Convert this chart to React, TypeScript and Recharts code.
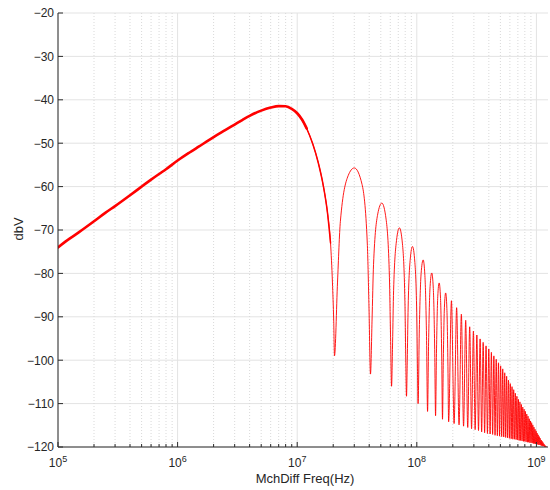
import React from 'react';
import { LineChart, Line, XAxis, YAxis, CartesianGrid, Label } from 'recharts';

// Main lobe (Hz, dBV)
const mainLobeFreq = [1e5, 1.25e5, 1.5e5, 2e5, 2.5e5, 3e5, 4e5, 5e5, 6e5, 7e5, 8e5, 1e6, 1.25e6, 1.5e6, 2e6, 2.5e6, 3e6, 3.5e6, 4e6, 5e6, 6e6, 7e6, 8e6, 9e6, 1e7, 1.1e7, 1.2e7, 1.35e7, 1.5e7, 1.65e7, 1.8e7, 1.9e7, 1.97e7, 2.02e7];
const mainLobeDb = [-74, -72, -70.5, -68, -66, -64.5, -62, -60, -58.4, -57.1, -56, -54, -52.2, -50.8, -48.6, -47.0, -45.7, -44.6, -43.7, -42.5, -41.8, -41.45, -41.5, -42.1, -43.1, -44.6, -46.6, -50.2, -54.5, -59.7, -66.5, -73, -82, -91];

// First side lobes, detailed shape
const sideLobeFreq = [
  2.173e7, 2.296e7, 2.665e7, 3.0e7, 3.485e7, 3.854e7, 3.977e7,
  4.223e7, 4.346e7, 4.715e7, 5.1e7, 5.535e7, 5.904e7, 6.027e7,
  6.273e7, 6.396e7, 6.765e7, 7.15e7, 7.585e7, 7.954e7, 8.077e7,
  8.323e7, 8.446e7, 8.815e7, 9.2e7, 9.635e7, 1.0004e8, 1.0127e8,
  1.0496e8, 1.0865e8, 1.13e8, 1.1685e8, 1.2054e8,
  1.2546e8, 1.2915e8, 1.333e8, 1.374e8, 1.411e8,
  1.4596e8, 1.4965e8, 1.538e8, 1.579e8, 1.616e8,
  1.6646e8, 1.7015e8, 1.743e8, 1.784e8, 1.821e8,
];
const sideLobeDb = [
  -82, -68, -57.5, -55.7, -59.5, -73, -87,
  -91, -78, -66.3, -63.8, -67.5, -81, -94,
  -96, -84, -72.4, -69.5, -73.2, -86.5, -99,
  -100, -89, -76.7, -73.8, -77.5, -90.5, -102,
  -93, -80, -76.9, -80.5, -94.5,
  -96, -83, -79.9, -83.5, -97.5,
  -98.5, -85.4, -82.2, -85.8, -99.5,
  -100.5, -87.8, -84.5, -88.1, -101.5,
];

// Later side-lobe peaks
const peakFreq = [
  1.948e8, 2.153e8, 2.358e8, 2.563e8, 2.768e8, 2.973e8, 3.178e8, 3.383e8, 3.588e8, 3.793e8,
  3.998e8, 4.203e8, 4.408e8, 4.613e8, 4.818e8, 5.023e8, 5.228e8, 5.433e8, 5.638e8, 5.843e8,
  6.048e8, 6.253e8, 6.458e8, 6.663e8, 6.868e8, 7.073e8, 7.278e8, 7.483e8, 7.688e8, 7.893e8,
  8.098e8, 8.303e8, 8.508e8, 8.713e8, 8.918e8, 9.123e8, 9.328e8, 9.533e8, 9.738e8, 9.943e8,
  1.0148e9, 1.0353e9, 1.0558e9, 1.0763e9, 1.0968e9, 1.1173e9, 1.1378e9, 1.1583e9, 1.1788e9, 1.1993e9,
];
const peakDb = [
  -86.3, -87.9, -89.4, -90.8, -92.3, -93.3, -94.2, -95.1, -95.9, -96.7,
  -97.4, -98.2, -99.0, -99.8, -100.6, -101.3, -102.0, -102.9, -103.7, -104.6,
  -105.4, -106.1, -106.8, -107.6, -108.3, -109.0, -109.6, -110.2, -110.8, -111.3,
  -111.8, -112.4, -112.9, -113.5, -114.0, -114.4, -114.9, -115.4, -115.9, -116.3,
  -116.8, -117.2, -117.6, -118.0, -118.4, -118.7, -119.0, -119.3, -119.6, -119.8,
];

// Nulls
const nullFreq = [
  2.05e7, 4.1e7, 6.15e7, 8.2e7, 1.025e8, 1.23e8, 1.435e8, 1.64e8, 1.845e8, 2.05e8,
  2.255e8, 2.46e8, 2.665e8, 2.87e8, 3.075e8, 3.28e8, 3.485e8, 3.69e8, 3.895e8, 4.1e8,
  4.305e8, 4.51e8, 4.715e8, 4.92e8, 5.125e8, 5.33e8, 5.535e8, 5.74e8, 5.945e8, 6.15e8,
  6.355e8, 6.56e8, 6.765e8, 6.97e8, 7.175e8, 7.38e8, 7.585e8, 7.79e8, 7.995e8, 8.2e8,
  8.405e8, 8.61e8, 8.815e8, 9.02e8, 9.225e8, 9.43e8, 9.635e8, 9.84e8, 1.0045e9, 1.025e9,
  1.0455e9, 1.066e9, 1.0865e9, 1.107e9, 1.1275e9, 1.148e9, 1.1685e9, 1.189e9, 1.2095e9,
];
const nullDb = [
  -99, -103.2, -106, -108.3, -110, -111.8, -112.8, -113.6, -114.2, -114.6,
  -114.9, -115.2, -115.5, -115.8, -116.0, -116.2, -116.5, -116.7, -116.9, -117.0,
  -117.1, -117.3, -117.4, -117.5, -117.6, -117.7, -117.8, -117.9, -118.0, -118.1,
  -118.2, -118.2, -118.3, -118.4, -118.5, -118.5, -118.6, -118.7, -118.7, -118.8,
  -118.9, -118.9, -119.0, -119.0, -119.1, -119.2, -119.2, -119.3, -119.3, -119.4,
  -119.5, -119.5, -119.6, -119.7, -119.8, -119.8, -119.9, -120, -120,
];

// Axis ticks
const xMajorTicks = [1e5, 1e6, 1e7, 1e8, 1e9];
const xMajorExp = ['5', '6', '7', '8', '9'];
const xMinorTicks = [
  2e5, 3e5, 4e5, 5e5, 6e5, 7e5, 8e5, 9e5,
  2e6, 3e6, 4e6, 5e6, 6e6, 7e6, 8e6, 9e6,
  2e7, 3e7, 4e7, 5e7, 6e7, 7e7, 8e7, 9e7,
  2e8, 3e8, 4e8, 5e8, 6e8, 7e8, 8e8, 9e8,
];
const yTicks = [-120, -110, -100, -90, -80, -70, -60, -50, -40, -30, -20];
const xDomain = [1e5, 1.25e9];
const yDomain = [-120, -20];
const xTitle = 'MchDiff Freq(Hz)';
const yTitle = 'dbV';

const zip = (fs: number[], vs: number[]) => fs.map((f, i) => ({ f, v: vs[i] }));
const curve = [
  ...zip(mainLobeFreq, mainLobeDb),
  ...zip(sideLobeFreq, sideLobeDb),
  ...zip(peakFreq, peakDb),
  ...zip(nullFreq, nullDb),
].sort((a, b) => a.f - b.f);
const mainLobe = zip(mainLobeFreq, mainLobeDb);
const mainLobeThick = mainLobe.filter((d) => d.f <= 1.2e7);
const mainLobeMedium = mainLobe.filter((d) => d.f >= 1e7 && d.f <= 1.9e7);

const allXTicks = [...xMajorTicks, ...xMinorTicks].sort((a, b) => a - b);

const FONT = '"Liberation Sans", Arial, Helvetica, sans-serif';
const AXIS = '#2b2b2b';
const TXT = '#262626';
const RED = '#ff0000';

const BottomTick = (props: any) => {
  const { x, y, payload } = props;
  const idx = xMajorTicks.indexOf(payload.value);
  const major = idx >= 0;
  return (
    <g>
      <line x1={x} x2={x} y1={y} y2={y - (major ? 5 : 3)} stroke={AXIS} strokeWidth={1} />
      {major && (
        <text x={x} y={y + 20} textAnchor="middle" fontSize={12} fill={TXT} fontFamily={FONT}>
          10
          <tspan dy={-5} fontSize={9}>{xMajorExp[idx]}</tspan>
        </text>
      )}
    </g>
  );
};

const TopTick = (props: any) => {
  const { x, y, payload } = props;
  const major = xMajorTicks.indexOf(payload.value) >= 0;
  return <line x1={x} x2={x} y1={y} y2={y + (major ? 5 : 3)} stroke={AXIS} strokeWidth={1} />;
};

const LeftTick = (props: any) => {
  const { x, y, payload } = props;
  const v = payload.value as number;
  const s = v < 0 ? '\u2212' + Math.abs(v) : String(v);
  return (
    <g>
      <line x1={x} x2={x + 5} y1={y} y2={y} stroke={AXIS} strokeWidth={1} />
      <text x={x - 4} y={y + 4.3} textAnchor="end" fontSize={12} fill={TXT} fontFamily={FONT}>
        {s}
      </text>
    </g>
  );
};

const RightTick = (props: any) => {
  const { x, y } = props;
  return <line x1={x} x2={x - 5} y1={y} y2={y} stroke={AXIS} strokeWidth={1} />;
};

const XTitle = (props: any) => {
  const vb = props.viewBox || { x: 58, y: 447, width: 490, height: 43 };
  return (
    <text x={vb.x + vb.width / 2 + 2} y={vb.y + 36} textAnchor="middle" fontSize={13} fill={TXT} fontFamily={FONT}>
      {xTitle}
    </text>
  );
};

const YTitle = (props: any) => {
  const vb = props.viewBox || { x: 0, y: 13, width: 58, height: 434 };
  const cx = vb.x + 23;
  const cy = vb.y + vb.height / 2 - 1;
  return (
    <text x={cx} y={cy} transform={`rotate(-90, ${cx}, ${cy})`} textAnchor="middle" fontSize={13} fill={TXT} fontFamily={FONT}>
      {yTitle}
    </text>
  );
};

export default function App() {
  return (
    <div style={{ position: 'absolute', left: 0, top: 0, width: 550, height: 490, background: '#fff' }}>
      <LineChart width={550} height={490} data={curve} margin={{ top: 13, right: 2, bottom: 0, left: 0 }}>
        <CartesianGrid
          stroke="#e3e3e3"
          strokeWidth={1}
          horizontalValues={yTicks}
          verticalValues={xMajorTicks}
        />
        <CartesianGrid
          stroke="#d9d9d9"
          strokeWidth={1}
          strokeDasharray="1 2"
          horizontal={false}
          verticalValues={xMinorTicks}
        />
        <XAxis
          dataKey="f"
          type="number"
          scale="log"
          domain={xDomain}
          allowDataOverflow
          ticks={allXTicks}
          interval={0}
          height={43}
          tickSize={0}
          tickMargin={0}
          tickLine={false}
          tick={<BottomTick />}
          axisLine={{ stroke: AXIS, strokeWidth: 1 }}
        >
          <Label content={<XTitle />} />
        </XAxis>
        <XAxis
          xAxisId="top"
          orientation="top"
          dataKey="f"
          type="number"
          scale="log"
          domain={xDomain}
          allowDataOverflow
          ticks={allXTicks}
          interval={0}
          height={0}
          tickSize={0}
          tickMargin={0}
          tickLine={false}
          tick={<TopTick />}
          axisLine={{ stroke: AXIS, strokeWidth: 1 }}
        />
        <YAxis
          type="number"
          domain={yDomain}
          ticks={yTicks}
          interval={0}
          width={58}
          tickSize={0}
          tickMargin={0}
          tickLine={false}
          tick={<LeftTick />}
          axisLine={{ stroke: AXIS, strokeWidth: 1 }}
        >
          <Label content={<YTitle />} />
        </YAxis>
        <YAxis
          yAxisId="right"
          orientation="right"
          type="number"
          domain={yDomain}
          ticks={yTicks}
          interval={0}
          width={0}
          tickSize={0}
          tickMargin={0}
          tickLine={false}
          tick={<RightTick />}
          axisLine={{ stroke: AXIS, strokeWidth: 1 }}
        />
        <Line
          data={curve}
          dataKey="v"
          type="monotone"
          stroke={RED}
          strokeWidth={0.9}
          dot={false}
          activeDot={false}
          isAnimationActive={false}
        />
        <Line
          data={mainLobeMedium}
          dataKey="v"
          type="monotone"
          stroke={RED}
          strokeWidth={1.5}
          strokeLinecap="round"
          dot={false}
          activeDot={false}
          isAnimationActive={false}
        />
        <Line
          data={mainLobeThick}
          dataKey="v"
          type="monotone"
          stroke={RED}
          strokeWidth={2.6}
          strokeLinecap="round"
          dot={false}
          activeDot={false}
          isAnimationActive={false}
        />
      </LineChart>
    </div>
  );
}
